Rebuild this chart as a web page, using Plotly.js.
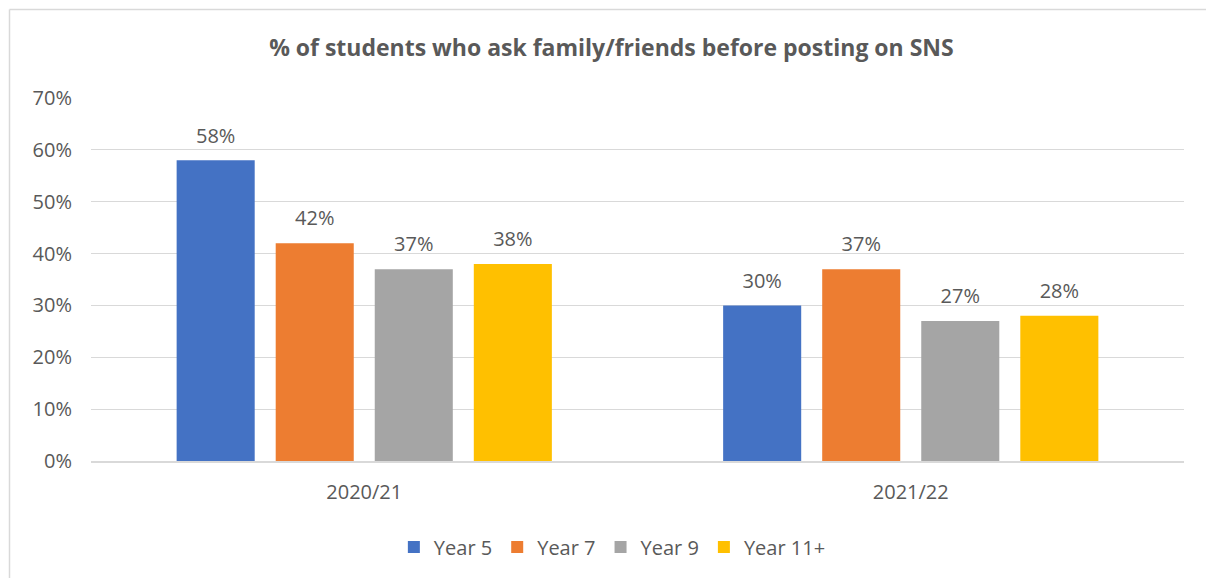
<!DOCTYPE html>
<html>
<head>
<meta charset="utf-8">
<script src="https://cdn.plot.ly/plotly-3.0.1.min.js"></script>
<style>html,body{margin:0;padding:0;background:#fff;}#chart{width:1206px;height:578px;}</style>
</head>
<body>
<div id="chart"></div>
<script>
const categories = ["2020/21", "2021/22"];
const seriesNames = ["Year 5", "Year 7", "Year 9", "Year 11+"];
const year5 = [58, 30];
const year7 = [42, 37];
const year9 = [37, 27];
const year11 = [38, 28];
const colors = ["#4472C4", "#ED7D31", "#A5A5A5", "#FFC000"];
const yTicks = [0, 10, 20, 30, 40, 50, 60, 70];

const textColor = "#595959";
const fontFam = "Open Sans, Noto Sans, sans-serif";
const allSeries = [year5, year7, year9, year11];

const traces = allSeries.map((vals, i) => ({
  type: "bar",
  name: seriesNames[i],
  x: categories,
  y: vals,
  marker: {color: colors[i]},
  text: vals.map(v => '<span style="font-size:20px">' + v + '%</span><br>\u00a0'),
  textposition: "outside",
  cliponaxis: false,
  textfont: {family: fontFam, size: 9, color: textColor},
  hoverinfo: "skip"
}));

const layout = {
  width: 1206,
  height: 578,
  margin: {l: 91, r: 22, t: 98, b: 117, autoexpand: false},
  paper_bgcolor: "#ffffff",
  plot_bgcolor: "#ffffff",
  font: {family: fontFam, color: textColor, size: 20},
  title: {
    text: "<b>% of students who ask family/friends before posting on SNS</b>",
    font: {family: fontFam, size: 23, color: textColor},
    xref: "container", x: 0.507, xanchor: "center",
    yref: "container", y: 1 - 48/578, yanchor: "middle"
  },
  barmode: "group",
  bargap: 0.275,
  bargroupgap: 0.212,
  xaxis: {
    type: "category",
    showgrid: false,
    showline: true,
    linecolor: "#D9D9D9",
    linewidth: 1.5,
    ticks: "",
    ticklabelstandoff: 12,
    tickfont: {family: fontFam, size: 20, color: textColor},
    fixedrange: true
  },
  yaxis: {
    range: [0, 70],
    tickvals: yTicks,
    ticktext: yTicks.map(v => v + "%"),
    showgrid: true,
    gridcolor: "#D9D9D9",
    gridwidth: 1,
    zeroline: false,
    showline: false,
    ticks: "",
    ticklabelstandoff: 18,
    tickfont: {family: fontFam, size: 20, color: textColor},
    fixedrange: true
  },
  showlegend: true,
  legend: {
    orientation: "h",
    x: 0.477, xanchor: "center",
    y: (461 - 547) / 363, yanchor: "middle",
    font: {family: fontFam, size: 20, color: textColor},
    traceorder: "normal"
  },
  shapes: [
    {type: "line", xref: "paper", yref: "paper", x0: -81.5/1093, x1: 1206/1093, y0: (578-9.5-117)/363, y1: (578-9.5-117)/363, line: {color: "#D9D9D9", width: 1.5}},
    {type: "line", xref: "paper", yref: "paper", x0: -81.5/1093, x1: -81.5/1093, y0: (578-9.5-117)/363, y1: -117/363, line: {color: "#D9D9D9", width: 1.5}}
  ]
};

Plotly.newPlot("chart", traces, layout, {displayModeBar: false, staticPlot: true});
</script>
</body>
</html>
